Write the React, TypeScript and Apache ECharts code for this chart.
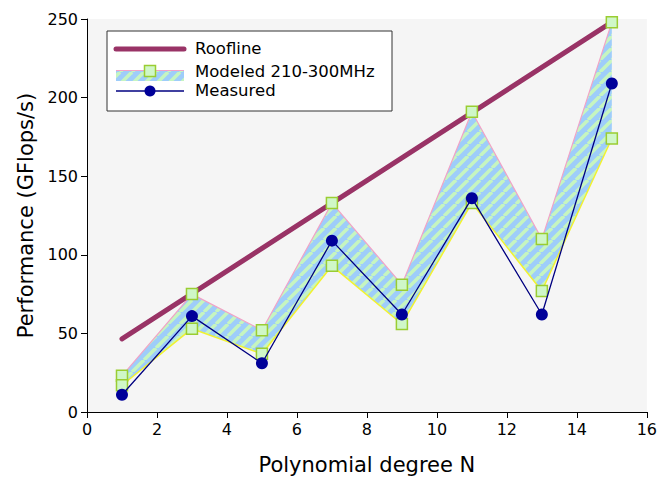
import { useEffect, useRef } from "react";
import * as echarts from "echarts";

// ---- data ----
const degrees = [1, 3, 5, 7, 9, 11, 13, 15];
const modeledUpper = [23, 75, 52, 133, 81, 191, 110, 248];
const modeledLower = [17, 53, 37, 93, 56, 133, 77, 174];
const measured = [11, 61, 31, 109, 62, 136, 62, 209];
const rooflineDegrees = [1, 15];
const rooflineValues = [46.5, 248];
const legendNames = ["Roofline", "Modeled 210-300MHz", "Measured"];
const xAxisTitle = "Polynomial degree N";
const yAxisTitle = "Performance (GFlops/s)";

const FONT = '"DejaVu Sans", "Liberation Sans", sans-serif';
const BLUE = "#9ecdfa";
const GREEN = "#c6f5c0";
const ROOF = "#993366";
const PINK = "#f2a2c6";
const YELLOW = "#f2f230";
const SQ_FILL = "#cff7c8";
const SQ_EDGE = "#9acd32";
const NAVY = "#000099";

function makeHatch() {
  const s = 12;
  const c = document.createElement("canvas");
  c.width = s;
  c.height = s;
  const ctx = c.getContext("2d")!;
  ctx.fillStyle = BLUE;
  ctx.fillRect(0, 0, s, s);
  ctx.strokeStyle = GREEN;
  ctx.lineWidth = 3.5;
  for (const x0 of [-s, 0, s]) {
    ctx.beginPath();
    ctx.moveTo(x0, s);
    ctx.lineTo(x0 + s, 0);
    ctx.stroke();
  }
  return c;
}

export default function App() {
  const ref = useRef<HTMLDivElement>(null);
  useEffect(() => {
    if (!ref.current) return;
    const chart = echarts.init(ref.current, null, { renderer: "svg" });
    const hatch = makeHatch();
    const pattern: any = { image: hatch, repeat: "repeat", imageWidth: 12, imageHeight: 12 };
    const pairs = (ys: number[], xs = degrees) => xs.map((x, i) => [x, ys[i]]);

    const lx = 116, lx2 = 184, lmid = 150;
    const rows = [49, 72, 91];

    chart.setOption({
      animation: false,
      backgroundColor: "#ffffff",
      textStyle: { fontFamily: FONT },
      grid: {
        left: 87, right: 11, top: 19, bottom: 65,
        show: true, backgroundColor: "#f5f5f5", borderWidth: 0,
      },
      xAxis: {
        type: "value", min: 0, max: 16, interval: 2,
        name: xAxisTitle, nameLocation: "middle", nameGap: 42,
        nameTextStyle: { fontSize: 21, color: "#000", fontFamily: FONT },
        axisLine: { show: true, lineStyle: { color: "#000", width: 1 } },
        axisTick: { show: true, length: 6, lineStyle: { color: "#000" } },
        axisLabel: { fontSize: 16, color: "#000", margin: 9, fontFamily: FONT },
        splitLine: { show: false },
      },
      yAxis: {
        type: "value", min: 0, max: 250, interval: 50,
        name: yAxisTitle, nameLocation: "middle", nameGap: 50,
        nameTextStyle: { fontSize: 21, color: "#000", fontFamily: FONT },
        axisLine: { show: true, lineStyle: { color: "#000", width: 1 } },
        axisTick: { show: true, length: 6, lineStyle: { color: "#000" } },
        axisLabel: { fontSize: 16, color: "#000", margin: 9, fontFamily: FONT },
        splitLine: { show: false },
      },
      series: [
        {
          name: "band", type: "custom", z: 1,
          data: degrees.map((d, i) => [d, modeledLower[i], modeledUpper[i]]),
          encode: { x: 0, y: [1, 2] },
          renderItem: (params: any, api: any) => {
            if (params.dataIndex !== 0) return null;
            const top = degrees.map((d, i) => api.coord([d, modeledUpper[i]]));
            const bottom = degrees.map((d, i) => api.coord([d, modeledLower[i]])).reverse();
            return {
              type: "polygon",
              shape: { points: top.concat(bottom) },
              style: { fill: pattern, stroke: null },
            };
          },
        },
        {
          name: "upperEdge", type: "line", z: 2,
          data: pairs(modeledUpper), symbol: "none",
          lineStyle: { color: PINK, width: 1.2 },
        },
        {
          name: "lowerEdge", type: "line", z: 2,
          data: pairs(modeledLower), symbol: "none",
          lineStyle: { color: YELLOW, width: 1.5 },
        },
        {
          name: legendNames[0], type: "line", z: 2,
          data: pairs(rooflineValues, rooflineDegrees), symbol: "none",
          lineStyle: { color: ROOF, width: 5, cap: "round" },
        },
        {
          name: "upperMarks", type: "scatter", z: 3,
          data: pairs(modeledUpper), symbol: "rect", symbolSize: 11,
          itemStyle: { color: SQ_FILL, borderColor: SQ_EDGE, borderWidth: 1.5, opacity: 1 },
        },
        {
          name: "lowerMarks", type: "scatter", z: 3,
          data: pairs(modeledLower), symbol: "rect", symbolSize: 11,
          itemStyle: { color: SQ_FILL, borderColor: SQ_EDGE, borderWidth: 1.5, opacity: 1 },
        },
        {
          name: legendNames[2], type: "line", z: 4,
          data: pairs(measured), symbol: "circle", symbolSize: 12,
          lineStyle: { color: "#000080", width: 1.3 },
          itemStyle: { color: NAVY, borderColor: NAVY, borderWidth: 0 },
        },
      ],
      graphic: [
        {
          type: "group", z: 100,
          children: [
            {
              type: "rect", shape: { x: 107, y: 31, width: 285, height: 80 },
              style: { fill: "#ffffff", stroke: "#333333", lineWidth: 1 },
            },
            {
              type: "line", shape: { x1: lx, y1: rows[0], x2: lx2, y2: rows[0] },
              style: { stroke: ROOF, lineWidth: 5, lineCap: "round" },
            },
            {
              type: "rect", shape: { x: lx, y: 70, width: lx2 - lx, height: 11 },
              style: { fill: pattern, stroke: null },
            },
            {
              type: "line", shape: { x1: lx, y1: 70.5, x2: lx2, y2: 70.5 },
              style: { stroke: PINK, lineWidth: 1.2 },
            },
            {
              type: "rect", shape: { x: lmid - 5.5, y: 65.5, width: 11, height: 11 },
              style: { fill: SQ_FILL, stroke: SQ_EDGE, lineWidth: 1.5 },
            },
            {
              type: "line", shape: { x1: lx, y1: rows[2], x2: lx2, y2: rows[2] },
              style: { stroke: "#000080", lineWidth: 1.3 },
            },
            {
              type: "circle", shape: { cx: lmid, cy: rows[2], r: 5.5 },
              style: { fill: NAVY },
            },
            ...legendNames.map((t, i) => ({
              type: "text",
              style: {
                text: t, x: 195, y: rows[i] - 1, fill: "#000",
                font: `16.5px ${FONT}`, verticalAlign: "middle", align: "left",
              },
            })),
          ],
        },
      ],
    });
    return () => chart.dispose();
  }, []);
  return (
    <div
      ref={ref}
      style={{ position: "fixed", left: 0, top: 0, width: 660, height: 480, background: "#fff" }}
    />
  );
}
